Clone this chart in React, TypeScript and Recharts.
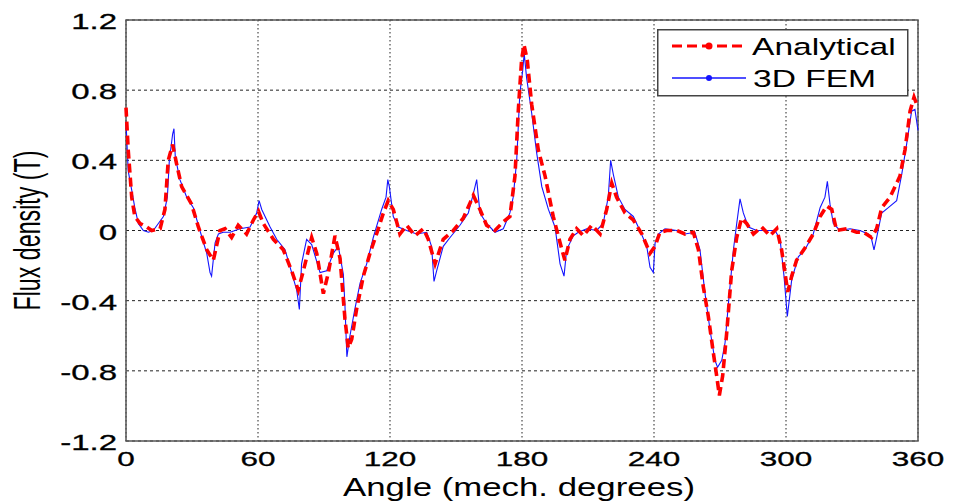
import { LineChart, Line, XAxis, YAxis, CartesianGrid, Legend, ReferenceArea } from 'recharts';

const FONT = '"Liberation Sans", Arial, Helvetica, sans-serif';

// Analytical model
const analyticalAngle = [
  0, 1, 2.6, 4, 6.4, 9.4, 11.7, 15.5, 17.7, 19.2, 21.2, 23, 25.3, 29.8, 32.9, 36.7, 39.7, 42.7, 45, 48, 51, 54.8,
  57.9, 60.2, 62.4, 67, 71.5, 75.3, 78.3, 80.6, 84.4, 86.7, 89.7, 92, 95, 97.3, 99.5, 101, 102.6, 104.8, 107.9,
  110.9, 113.9, 117, 119.2, 121.5, 124.5, 127.6, 131.4, 135.2, 137.4, 140.5, 144.2, 148.8, 153.3, 157.9, 160.9,
  163.9, 167.7, 171.5, 174.5, 176.8, 178.3, 179.8, 180.9, 182.4, 184.4, 187.4, 190.5, 194.2, 197.3, 199.5, 201.8,
  204.8, 207.9, 211.7, 215.5, 218.5, 220.8, 223, 226.8, 230.6, 234.5, 238.2, 240.5, 242.7, 245.8, 250.3, 254.1,
  257.9, 260.2, 262.4, 264.7, 267, 268.5, 269.7, 271.2, 273, 275.3, 277.6, 279.8, 282.1, 285.2, 288.9, 292.7,
  295.8, 298, 300.8, 302.6, 304.8, 308.6, 312.4, 315.5, 318.5, 320.8, 323, 327.6, 332.1, 335.2, 338.9, 341.2,
  343.5, 347.3, 351.8, 354.1, 356.4, 358.2, 360,
];
const analyticalFlux = [
  0.7, 0.46, 0.19, 0.08, 0.04, 0.02, 0.0, 0.01, 0.12, 0.4, 0.49, 0.38, 0.25, 0.15, 0.02, -0.11, -0.17, 0.0, 0.01,
  -0.04, 0.03, -0.02, 0.06, 0.11, 0.04, -0.05, -0.11, -0.23, -0.34, -0.23, -0.04, -0.13, -0.36, -0.24, -0.03,
  -0.16, -0.5, -0.67, -0.62, -0.45, -0.26, -0.13, -0.02, 0.1, 0.17, 0.12, -0.02, 0.03, -0.03, 0.01, -0.05, -0.19,
  -0.05, 0.0, 0.07, 0.2, 0.12, 0.03, 0.0, 0.05, 0.08, 0.31, 0.68, 0.97, 1.06, 0.97, 0.72, 0.46, 0.31, 0.08, -0.07,
  -0.17, -0.05, 0.01, -0.03, 0.03, -0.02, 0.12, 0.27, 0.19, 0.1, 0.06, -0.02, -0.13, -0.09, -0.01, 0.0, 0.0,
  -0.02, -0.01, -0.11, -0.32, -0.49, -0.7, -0.83, -0.94, -0.83, -0.59, -0.23, -0.04, 0.07, 0.04, -0.02, 0.02,
  -0.03, 0.01, -0.11, -0.35, -0.26, -0.17, -0.1, -0.02, 0.08, 0.14, 0.12, 0.0, 0.01, -0.01, -0.01, -0.04, 0.01,
  0.13, 0.19, 0.31, 0.46, 0.68, 0.76, 0.7,
];

// 3D FEM results
const femAngle = [
  0, 1, 2.6, 4, 5.6, 7.9, 10.2, 12.4, 14.7, 17, 18.8, 19.7, 21.2, 21.8, 22.4, 24.5, 27.6, 30.6, 33.6, 36.7, 38.2,
  38.9, 40.5, 42, 44.2, 47.3, 51.8, 56.4, 59.4, 60.5, 61.7, 65.5, 68.5, 72.3, 75.3, 77.6, 78.8, 79.8, 82.1, 84.4,
  88.2, 91.2, 94.2, 96.5, 98.8, 99.5, 100.4, 101.8, 104, 106.4, 109.4, 112.4, 116.2, 118.2, 119, 119.7, 121.5,
  123.8, 127.6, 132.1, 136.7, 138.9, 140, 141.2, 144.2, 147.3, 151.8, 155.6, 157.9, 159.4, 160.9, 163.9, 167.7,
  171.5, 174.5, 176, 177.6, 179, 180.3, 181, 182.1, 184.4, 186.7, 189, 192, 195, 197.3, 199.1, 200.3, 203.3,
  205.6, 209.4, 213.9, 216.9, 219.2, 220.3, 221.5, 223.8, 226.8, 230.6, 233.6, 236.7, 238.2, 239.7, 240.5, 242,
  245, 250.3, 254.1, 258.6, 260.9, 263.2, 265.5, 267.7, 268.9, 270.8, 272.3, 273.8, 276.1, 277.6, 279.1, 280.6,
  282.9, 286.7, 291.2, 295, 297.3, 299.1, 300.6, 302.6, 305.6, 308.6, 312.4, 315.5, 317.7, 318.8, 320, 321.5,
  324.5, 329.1, 333.6, 337.4, 338.9, 340, 341.2, 343.5, 346.5, 350.3, 352.6, 354.8, 357.1, 358.6, 360,
];
const femFlux = [
  0.62, 0.34, 0.23, 0.13, 0.04, 0.0, -0.01, 0.0, 0.04, 0.08, 0.19, 0.4, 0.55, 0.58, 0.42, 0.29, 0.19, 0.13, 0.0,
  -0.13, -0.24, -0.26, -0.07, -0.02, -0.01, -0.01, 0.01, 0.02, 0.1, 0.17, 0.12, 0.02, -0.05, -0.11, -0.24, -0.34,
  -0.45, -0.19, -0.05, -0.08, -0.24, -0.23, -0.13, -0.09, -0.25, -0.42, -0.72, -0.6, -0.45, -0.3, -0.19, -0.04,
  0.12, 0.19, 0.29, 0.25, 0.08, 0.02, 0.0, -0.02, -0.01, -0.09, -0.29, -0.23, -0.09, -0.04, 0.03, 0.1, 0.21, 0.29,
  0.1, 0.04, -0.01, 0.01, 0.1, 0.19, 0.4, 0.78, 0.91, 1.01, 0.87, 0.67, 0.44, 0.25, 0.12, 0.02, -0.19, -0.26,
  -0.11, -0.03, -0.01, 0.01, 0.0, 0.04, 0.19, 0.4, 0.32, 0.19, 0.12, 0.08, 0.0, -0.09, -0.21, -0.24, -0.07, -0.02,
  0.01, 0.0, -0.02, -0.01, -0.11, -0.36, -0.57, -0.74, -0.78, -0.74, -0.64, -0.42, -0.11, 0.04, 0.18, 0.1, 0.02,
  0.0, 0.0, 0.0, -0.05, -0.26, -0.49, -0.28, -0.15, -0.11, -0.02, 0.13, 0.19, 0.28, 0.15, 0.04, 0.0, 0.01, 0.0,
  -0.02, -0.05, -0.11, -0.04, 0.1, 0.13, 0.17, 0.32, 0.49, 0.68, 0.69, 0.57,
];

const angleTicks = [0, 60, 120, 180, 240, 300, 360];
const fluxTicks = [-1.2, -0.8, -0.4, 0, 0.4, 0.8, 1.2];

const analytical = analyticalAngle.map((a, i) => ({ angle: a, flux: analyticalFlux[i] }));
const fem = femAngle.map((a, i) => ({ angle: a, flux: femFlux[i] }));

function AngleTick({ x, y, payload }: any) {
  return (
    <text
      transform={`translate(${x},${y + 25}) scale(1.5,1)`}
      textAnchor="middle"
      fontSize={21}
      fontFamily={FONT}
      fill="#000"
      stroke="#000"
      strokeWidth={0.3}
    >
      {payload.value}
    </text>
  );
}

function FluxTick({ x, y, payload }: any) {
  const v = payload.value;
  const label = v === 0 ? '0' : v.toFixed(1);
  return (
    <text
      transform={`translate(${x},${y + 9}) scale(1.5,1)`}
      textAnchor="end"
      fontSize={22}
      fontFamily={FONT}
      fill="#000"
      stroke="#000"
      strokeWidth={0.3}
    >
      {label}
    </text>
  );
}

function FluxLegend({ payload }: any) {
  const items = payload ?? [];
  return (
    <svg width={252} height={68} style={{ display: 'block' }}>
      <rect x={0.75} y={0.75} width={250} height={66} fill="#fff" stroke="#444" strokeWidth={1.5} />
      {items.map((item: any, i: number) => {
        const cy = 17 + i * 32;
        const dashed = i === 0;
        return (
          <g key={item.value}>
            <line
              x1={15}
              x2={dashed ? 85 : 89}
              y1={cy}
              y2={cy}
              stroke={item.color}
              strokeWidth={dashed ? 3 : 1.3}
              strokeDasharray={dashed ? '10 5' : undefined}
            />
            <circle cx={52} cy={cy} r={dashed ? 3.5 : 3} fill={item.color} />
            <text
              transform={`translate(${dashed ? 95 : 96},${cy + 9}) scale(1.37,1)`}
              fontSize={24.5}
              fontFamily={FONT}
              fill="#000"
            >
              {item.value}
            </text>
          </g>
        );
      })}
    </svg>
  );
}

export default function App() {
  return (
    <div style={{ position: 'fixed', left: 0, top: 0, width: 955, height: 501, background: '#fff' }}>
      <LineChart width={955} height={501} margin={{ top: 20, right: 37, bottom: 0, left: 0 }}>
        <CartesianGrid vertical={false} stroke="#222" strokeDasharray="3 3" />
        <CartesianGrid horizontal={false} stroke="#222" strokeDasharray="1.5 2.5" />
        <XAxis
          dataKey="angle"
          type="number"
          domain={[0, 360]}
          ticks={angleTicks}
          height={60}
          tickSize={0}
          tickMargin={0}
          axisLine={false}
          tick={<AngleTick />}
          interval={0}
          label={{
            content: ({ viewBox }: any) => (
              <text
                x={viewBox.x + viewBox.width / 2 - 3}
                y={495.5}
                textAnchor="middle"
                fontSize={26}
                fontFamily={FONT}
                fill="#000"
                textLength={352}
                lengthAdjust="spacingAndGlyphs"
              >
                Angle (mech. degrees)
              </text>
            ),
          }}
        />
        <YAxis
          type="number"
          domain={[-1.2, 1.2]}
          ticks={fluxTicks}
          width={126}
          tickSize={0}
          tickMargin={9}
          axisLine={false}
          tick={<FluxTick />}
          interval={0}
          label={{
            content: ({ viewBox }: any) => (
              <text
                transform={`translate(40,${viewBox.y + viewBox.height / 2}) rotate(-90)`}
                textAnchor="middle"
                fontSize={37}
                fontFamily={FONT}
                fill="#000"
                textLength={160}
                lengthAdjust="spacingAndGlyphs"
              >
                Flux density (T)
              </text>
            ),
          }}
        />
        <ReferenceArea x1={0} x2={360} y1={-1.2} y2={1.2} fill="none" fillOpacity={0} stroke="#555" strokeWidth={1.5} />
        <Line
          data={fem}
          dataKey="flux"
          name="3D FEM"
          type="linear"
          stroke="#1414ff"
          strokeWidth={1.1}
          dot={false}
          isAnimationActive={false}
        />
        <Line
          data={analytical}
          dataKey="flux"
          name="Analytical"
          type="linear"
          stroke="#ff0000"
          strokeWidth={3.6}
          strokeDasharray="9 5"
          dot={false}
          isAnimationActive={false}
        />
        <Legend
          layout="vertical"
          align="center"
          verticalAlign="middle"
          content={(props: any) => <FluxLegend payload={[...(props.payload ?? [])].reverse()} />}
          wrapperStyle={{ position: 'absolute', left: 657, top: 29, width: 252, height: 68 }}
        />
      </LineChart>
    </div>
  );
}
